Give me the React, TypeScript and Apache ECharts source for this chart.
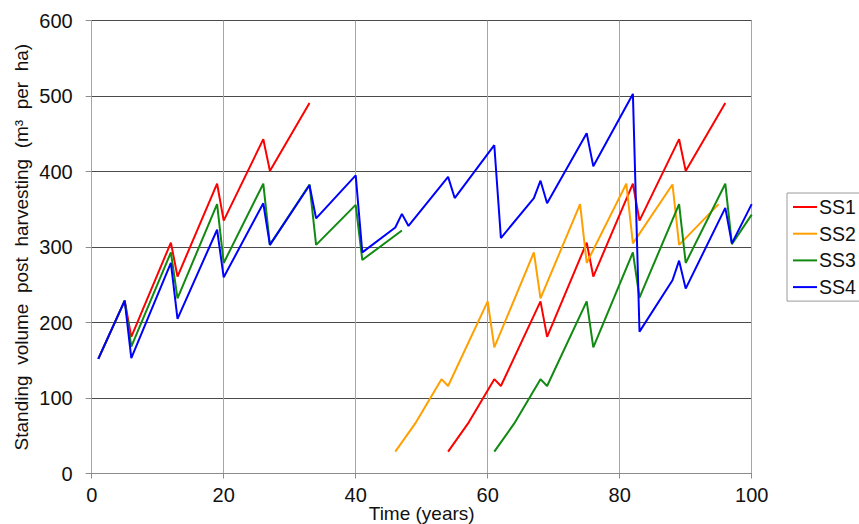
import React, { useEffect, useRef } from "react";
import * as echarts from "echarts";

// ---- Data ----
const xTicks = [0, 20, 40, 60, 80, 100];
const yTicks = [0, 100, 200, 300, 400, 500, 600];

const seriesNames = ["SS1", "SS2", "SS3", "SS4"];
const seriesColors = ["#ff0000", "#ffa000", "#118a11", "#0000ff"];

// "-" marks a gap in the line
const ss1Years = [1, 5, 6, 12, 13, 19, 20, 26, 27, 33, 44, 54, 57, 61, 62, 68, 69, 75, 76, 82, 83, 89, 90, 96];
const ss1Values: (number | string)[] = [152, 229, 181, 306, 261, 384, 335, 443, 401, 491, "-", 29, 66, 125, 116, 228, 181, 306, 261, 384, 335, 443, 401, 491];

const ss2Years = [46, 49, 53, 54, 60, 61, 67, 68, 74, 75, 81, 82, 88, 89, 95];
const ss2Values: (number | string)[] = [29, 66, 125, 116, 228, 167, 293, 232, 357, 279, 384, 305, 383, 303, 357];

const ss3Years = [1, 5, 6, 12, 13, 19, 20, 26, 27, 33, 34, 40, 41, 47, 54, 61, 64, 68, 69, 75, 76, 82, 83, 89, 90, 96, 97, 100];
const ss3Values: (number | string)[] = [152, 229, 168, 293, 232, 357, 279, 384, 303, 383, 303, 356, 283, 322, "-", 29, 66, 125, 116, 228, 167, 293, 233, 357, 279, 384, 304, 343];

const ss4Years = [1, 5, 6, 12, 13, 19, 20, 26, 27, 33, 34, 40, 41, 46, 47, 48, 54, 55, 61, 62, 67, 68, 69, 75, 76, 82, 83, 88, 89, 90, 96, 97, 100];
const ss4Values: (number | string)[] = [152, 229, 153, 279, 205, 323, 260, 358, 303, 382, 338, 395, 293, 326, 344, 328, 393, 365, 435, 312, 365, 388, 358, 451, 407, 503, 188, 256, 282, 245, 352, 305, 357];

const seriesYears = [ss1Years, ss2Years, ss3Years, ss4Years];
const seriesValues = [ss1Values, ss2Values, ss3Values, ss4Values];

const yTitle = "Standing\u00a0 volume\u00a0 post\u00a0 harvesting\u00a0 (m³\u00a0 per\u00a0 ha)";
const xTitle = "Time (years)";

const FONT = "'Liberation Sans', Arial, Helvetica, sans-serif";

export default function App() {
  const ref = useRef<HTMLDivElement>(null);

  useEffect(() => {
    if (!ref.current) return;
    const chart = echarts.init(ref.current, undefined, { renderer: "svg" });

    const ySplitColors = yTicks.map((v) => (v === 0 ? "#8c8c8c" : "#4a4a4a"));

    chart.setOption({
      animation: false,
      backgroundColor: "#ffffff",
      textStyle: { fontFamily: FONT },
      grid: {
        left: 91.7,
        width: 660,
        top: 20.7,
        height: 452.8,
        containLabel: false,
        outerBoundsMode: "none",
      },
      legend: {
        show: true,
        orient: "vertical",
        left: 787,
        top: 193,
        padding: [4, 14, 4, 6],
        itemGap: 6.7,
        itemWidth: 24,
        itemHeight: 2,
        icon: "rect",
        borderColor: "#9a9a9a",
        borderWidth: 1,
        borderRadius: 0,
        backgroundColor: "#ffffff",
        data: seriesNames,
        textStyle: { fontSize: 19.5, color: "#111", fontFamily: FONT, lineHeight: 19, padding: [0, 0, 0, -3] },
      },
      xAxis: {
        type: "value",
        min: xTicks[0],
        max: xTicks[xTicks.length - 1],
        interval: 20,
        name: xTitle,
        nameLocation: "middle",
        nameGap: 30,
        nameMoveOverlap: false,
        nameTextStyle: { fontSize: 19, color: "#111", fontFamily: FONT },
        axisLine: { show: true, lineStyle: { color: "#8c8c8c", width: 1 } },
        axisTick: { show: true, inside: false, length: 5, lineStyle: { color: "#8c8c8c" } },
        axisLabel: { fontSize: 20, color: "#111", margin: 11, fontFamily: FONT },
        splitLine: { show: true, lineStyle: { color: "#a6a6a6", width: 1 } },
      },
      yAxis: {
        type: "value",
        min: yTicks[0],
        max: yTicks[yTicks.length - 1],
        interval: 100,
        name: yTitle,
        nameLocation: "middle",
        nameGap: 61,
        nameRotate: 90,
        nameMoveOverlap: false,
        nameTextStyle: { fontSize: 19, color: "#111", fontFamily: FONT },
        axisLine: { show: true, lineStyle: { color: "#a6a6a6", width: 1 } },
        axisTick: { show: true, inside: false, length: 6, lineStyle: { color: "#8c8c8c" } },
        axisLabel: { fontSize: 20, color: "#111", margin: 19, fontFamily: FONT },
        splitLine: { show: true, lineStyle: { color: ySplitColors, width: 1 } },
      },
      series: seriesNames.map((name, i) => ({
        name,
        type: "line",
        symbol: "none",
        showSymbol: false,
        connectNulls: false,
        clip: true,
        color: seriesColors[i],
        lineStyle: { color: seriesColors[i], width: 2 },
        data: seriesYears[i].map((x, j) => [x, seriesValues[i][j]]),
      })),
    });

    return () => chart.dispose();
  }, []);

  return (
    <div
      ref={ref}
      style={{ position: "fixed", left: 0, top: 0, width: 859, height: 524 }}
    />
  );
}
